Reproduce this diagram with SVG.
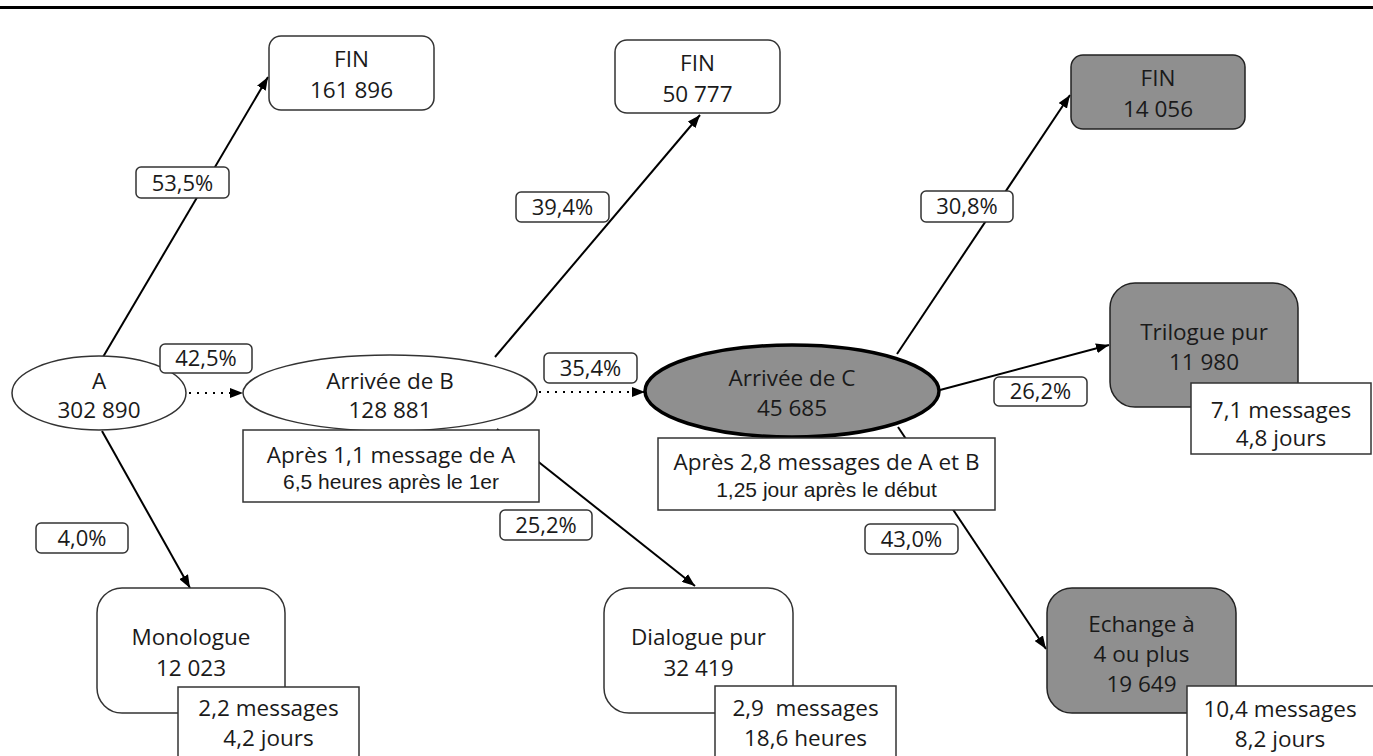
<svg xmlns="http://www.w3.org/2000/svg" width="1373" height="756" viewBox="0 0 1373 756">
<style>
.t{font-family:"Open Sans","Liberation Sans",sans-serif;font-size:22.5px;fill:#1a1a1a;text-anchor:middle}
.s{font-family:"Liberation Sans",Arial,sans-serif;font-size:21px;fill:#1a1a1a;text-anchor:middle}
.l{font-family:"Open Sans","Liberation Sans",sans-serif;font-size:22px;fill:#1a1a1a;text-anchor:middle}
.wb{fill:#fff;stroke:#333;stroke-width:1.5}
.gb{fill:#8f8f8f;stroke:#222;stroke-width:1.5}
.ib{fill:#fff;stroke:#333;stroke-width:1.5}
.lb{fill:#fff;stroke:#333;stroke-width:1.5}
.c{stroke:#000;stroke-width:2;fill:none;marker-end:url(#ah)}
.d{stroke:#000;stroke-width:2;fill:none;stroke-dasharray:2 6;marker-end:url(#ah)}
</style>
<defs>
<marker id="ah" markerUnits="userSpaceOnUse" markerWidth="13" markerHeight="10" viewBox="0 0 13 10" refX="13" refY="5" orient="auto">
<path d="M0,0 L13,5 L0,10 z" fill="#000"/>
</marker>
</defs>
<rect width="1373" height="756" fill="#fff"/>
<line x1="0" y1="7.5" x2="1373" y2="7.5" stroke="#000" stroke-width="3"/>

<g id="connectors">
<line class="c" x1="103" y1="357" x2="268" y2="77"/>
<line class="d" x1="189" y1="393" x2="243" y2="393"/>
<line class="c" x1="102" y1="431" x2="190" y2="588"/>
<line class="c" x1="495" y1="357" x2="700" y2="115"/>
<line class="d" x1="539" y1="392" x2="645" y2="392"/>
<line class="c" x1="497" y1="429" x2="695" y2="586"/>
<line class="c" x1="897" y1="354" x2="1070" y2="95"/>
<line class="c" x1="940" y1="390" x2="1109" y2="345"/>
<line class="c" x1="898" y1="427" x2="1046" y2="649"/>
</g>

<g id="node-fin1">
<rect class="wb" x="269" y="36" width="165" height="74" rx="12"/>
<text class="t" x="351.5" y="67">FIN</text>
<text class="t" x="351.5" y="98">161 896</text>
</g>
<g id="node-fin2">
<rect class="wb" x="615" y="40" width="165" height="73" rx="12"/>
<text class="t" x="697.5" y="71">FIN</text>
<text class="t" x="697.5" y="102">50 777</text>
</g>
<g id="node-fin3">
<rect class="gb" x="1071" y="55" width="174" height="74" rx="12"/>
<text class="t" x="1158" y="86">FIN</text>
<text class="t" x="1158" y="117">14 056</text>
</g>

<g id="node-a">
<ellipse class="wb" cx="99" cy="393" rx="87" ry="37"/>
<text class="t" x="99" y="389">A</text>
<text class="t" x="99" y="418">302 890</text>
</g>

<g id="node-b">
<ellipse class="wb" cx="390" cy="393" rx="147" ry="38"/>
<text class="t" x="390" y="389">Arrivée de B</text>
<text class="t" x="390" y="418">128 881</text>
<rect class="ib" x="243" y="430" width="296" height="72"/>
<text class="t" x="391" y="463">Après 1,1 message de A</text>
<text class="s" x="391" y="489">6,5 heures après le 1er</text>
</g>

<g id="node-c">
<ellipse cx="792" cy="391" rx="147" ry="46" fill="#8f8f8f" stroke="#000" stroke-width="3.5"/>
<text class="t" x="792" y="386">Arrivée de C</text>
<text class="t" x="792" y="416">45 685</text>
<rect class="ib" x="658" y="438" width="337" height="72"/>
<text class="t" x="826.5" y="470">Après 2,8 messages de A et B</text>
<text class="s" x="826.5" y="497">1,25 jour après le début</text>
</g>

<g id="node-trilogue">
<rect class="gb" x="1110" y="283" width="188" height="124" rx="25"/>
<text class="t" x="1204" y="340">Trilogue pur</text>
<text class="t" x="1204" y="370">11 980</text>
<rect class="ib" x="1191" y="383" width="180" height="71"/>
<text class="t" x="1281" y="418">7,1 messages</text>
<text class="t" x="1281" y="446">4,8 jours</text>
</g>

<g id="node-monologue">
<rect class="wb" x="97" y="588" width="188" height="125" rx="25"/>
<text class="t" x="191" y="645">Monologue</text>
<text class="t" x="191" y="676">12 023</text>
<rect class="ib" x="178" y="687" width="181" height="75"/>
<text class="t" x="268.5" y="716">2,2 messages</text>
<text class="t" x="268.5" y="746">4,2 jours</text>
</g>

<g id="node-dialogue">
<rect class="wb" x="604" y="588" width="189" height="125" rx="25"/>
<text class="t" x="698.5" y="645">Dialogue pur</text>
<text class="t" x="698.5" y="676">32 419</text>
<rect class="ib" x="715" y="686" width="181" height="76"/>
<text class="t" x="805.5" y="716" xml:space="preserve">2,9  messages</text>
<text class="t" x="805.5" y="746">18,6 heures</text>
</g>

<g id="node-echange">
<rect class="gb" x="1047" y="588" width="189" height="125" rx="25"/>
<text class="t" x="1141.5" y="632">Echange à</text>
<text class="t" x="1141.5" y="662">4 ou plus</text>
<text class="t" x="1141.5" y="692">19 649</text>
<rect class="ib" x="1187" y="686" width="190" height="76"/>
<text class="t" x="1280" y="717">10,4 messages</text>
<text class="t" x="1280" y="747">8,2 jours</text>
</g>

<g id="labels">
<rect class="lb" x="136" y="167" width="93" height="31" rx="5"/>
<text class="l" x="182.5" y="191">53,5%</text>
<rect class="lb" x="160" y="344" width="92" height="29" rx="5"/>
<text class="l" x="206" y="366">42,5%</text>
<rect class="lb" x="36" y="523" width="92" height="30" rx="5"/>
<text class="l" x="82" y="546">4,0%</text>
<rect class="lb" x="516" y="192" width="93" height="30" rx="5"/>
<text class="l" x="562.5" y="215">39,4%</text>
<rect class="lb" x="544" y="353" width="93" height="30" rx="5"/>
<text class="l" x="590.5" y="376">35,4%</text>
<rect class="lb" x="500" y="510" width="92" height="30" rx="5"/>
<text class="l" x="546" y="533">25,2%</text>
<rect class="lb" x="921" y="191" width="92" height="31" rx="5"/>
<text class="l" x="967" y="214">30,8%</text>
<rect class="lb" x="994" y="377" width="93" height="29" rx="5"/>
<text class="l" x="1040.5" y="399">26,2%</text>
<rect class="lb" x="865" y="524" width="93" height="30" rx="5"/>
<text class="l" x="911.5" y="547">43,0%</text>
</g>
</svg>
